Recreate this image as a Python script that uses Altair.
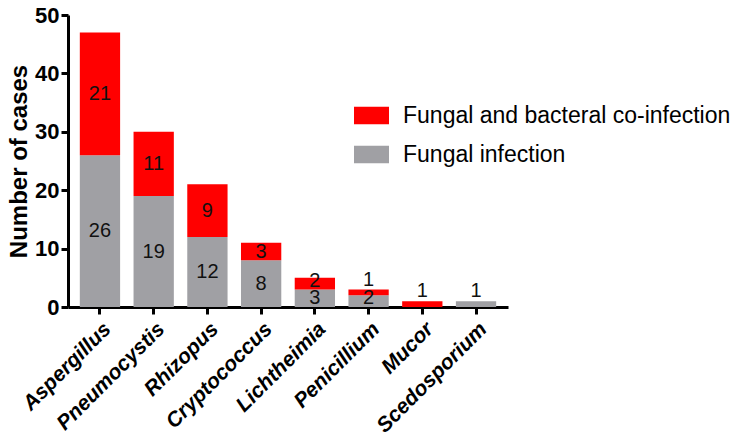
import altair as alt
import pandas as pd

genera = ["Aspergillus", "Pneumocystis", "Rhizopus", "Cryptococcus",
          "Lichtheimia", "Penicillium", "Mucor", "Scedosporium"]
fungal_only = [26, 19, 12, 8, 3, 2, 0, 1]
co_infection = [21, 11, 9, 3, 2, 1, 1, 0]
series_names = ["Fungal and bacteral co-infection", "Fungal infection"]
series_colors = ["#ff0000", "#a0a0a4"]

rows = []
for g, f, c in zip(genera, fungal_only, co_infection):
    rows.append({"genus": g, "series": series_names[1], "cases": f, "ord": 0})
    rows.append({"genus": g, "series": series_names[0], "cases": c, "ord": 1})
df = pd.DataFrame(rows)

FONT = "Liberation Sans"

base = alt.Chart(df).transform_stack(
    stack="cases", groupby=["genus"], as_=["y0", "y1"],
    sort=[alt.SortField("ord", order="ascending")]
)

xenc = alt.X("genus:N", sort=genera, title=None,
             scale=alt.Scale(paddingInner=0.25, paddingOuter=0.22),
             axis=alt.Axis(labelAngle=-45, labelFont=FONT, labelFontSize=21,
                           labelFontWeight="bold", labelFontStyle="italic",
                           labelColor="black", labelPadding=4,
                           domainColor="black", domainWidth=3,
                           tickColor="black", tickWidth=3, tickSize=7))

bars = base.mark_bar().encode(
    x=xenc,
    y=alt.Y("y0:Q", title="Number of cases",
            scale=alt.Scale(domain=[0, 50], nice=False),
            axis=alt.Axis(values=[0, 10, 20, 30, 40, 50], grid=False,
                          labelFont=FONT, labelFontSize=22, labelFontWeight="bold",
                          labelColor="black", labelPadding=2,
                          titleFont=FONT, titleFontSize=24, titleFontWeight="bold",
                          titleColor="black", titlePadding=3,
                          domainColor="black", domainWidth=3,
                          tickColor="black", tickWidth=3, tickSize=7)),
    y2="y1:Q",
    color=alt.Color("series:N",
                    scale=alt.Scale(domain=series_names, range=series_colors),
                    legend=alt.Legend(title=None, orient="none", legendX=286, legendY=83,
                                      labelFont=FONT, labelFontSize=23, labelColor="black",
                                      symbolType="M-1,-0.5L1,-0.5L1,0.5L-1,0.5Z",
                                      symbolSize=1225, symbolStrokeWidth=0,
                                      symbolOpacity=1, rowPadding=9, labelOffset=14,
                                      labelLimit=400)),
)

labels = base.transform_filter("datum.cases > 0").transform_calculate(
    pos="datum.cases <= 1 ? datum.y1 + 1.7 : max((datum.y0 + datum.y1) / 2, datum.y0 + 1.5)"
).mark_text(font=FONT, fontSize=20, color="#111111", baseline="middle").encode(
    x=alt.X("genus:N", sort=genera),
    y=alt.Y("pos:Q"),
    text=alt.Text("cases:Q"),
)

chart = alt.layer(bars, labels).properties(
    width=440, height=292,
    autosize=alt.AutoSizeParams(type="none"),
    padding={"left": 60, "top": 7, "right": 226, "bottom": 127},
).configure_view(stroke=None).configure_axis(grid=False)

chart.save("out.html", embed_options={"renderer": "svg", "actions": False})
